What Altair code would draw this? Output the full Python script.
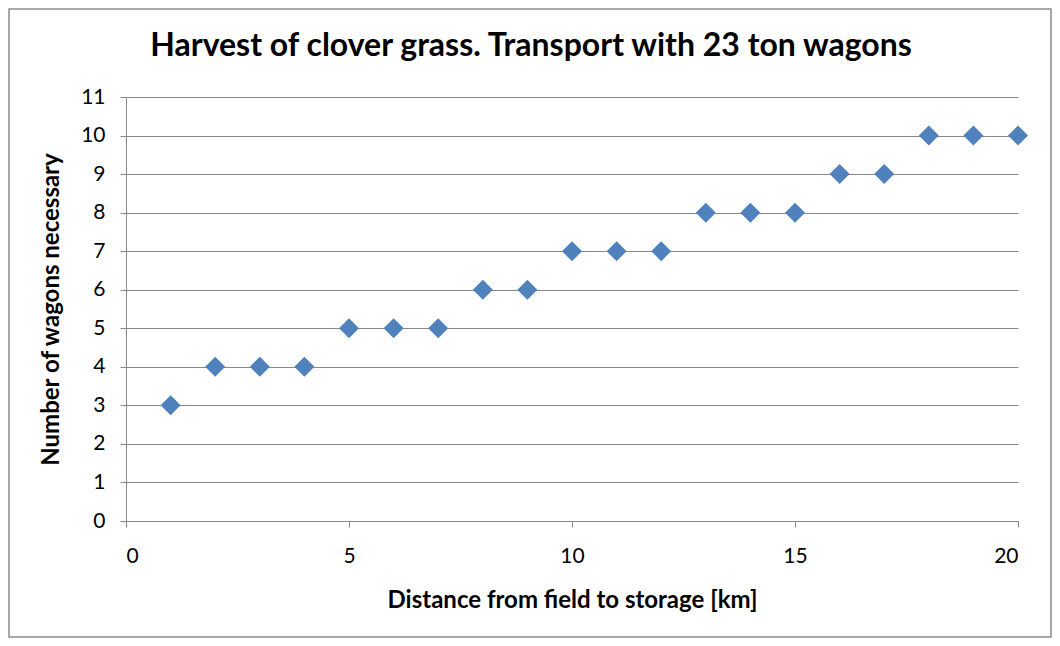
import altair as alt
import pandas as pd

distance_km = list(range(1, 21))
wagons = [3, 4, 4, 4, 5, 5, 5, 6, 6, 7, 7, 7, 8, 8, 8, 9, 9, 10, 10, 10]
title_text = ["Harvest of clover grass. Transport with 23 ton wagons"]

df = pd.DataFrame({"distance": distance_km, "wagons": wagons})

FONT = "Lato"
W, H = 892, 424
PAD_L, PAD_T = 118, 89
TOTAL_W, TOTAL_H = 1044, 630
PAD_R = TOTAL_W - PAD_L - W
PAD_B = TOTAL_H - PAD_T - H

points = alt.Chart(df).mark_point(
    shape="diamond", filled=True, size=400, color="#4F81BD", opacity=1
).encode(
    x=alt.X("distance:Q", scale=alt.Scale(domain=[0, 20], nice=False),
            axis=alt.Axis(values=[0, 5, 10, 15, 20], title="Distance from field to storage [km]",
                          grid=False, domainColor="#888888", tickColor="#888888",
                          tickSize=6, labelPadding=18, titlePadding=22,
                          labelFont=FONT, labelFontSize=21, labelColor="#000000",
                          titleFont=FONT, titleFontSize=24, titleFontWeight="bold",
                          titleColor="#000000")),
    y=alt.Y("wagons:Q", scale=alt.Scale(domain=[0, 11], nice=False),
            axis=alt.Axis(values=list(range(0, 12)), title="Number of wagons necessary",
                          grid=True, gridColor="#888888", domainColor="#888888",
                          tickColor="#888888", tickSize=6, labelPadding=15, titlePadding=17,
                          labelFont=FONT, labelFontSize=21, labelColor="#000000",
                          titleFont=FONT, titleFontSize=24, titleFontWeight="bold",
                          titleColor="#000000")),
)

border = alt.Chart(pd.DataFrame({"a": [0]})).mark_rect(
    fill=None, stroke="#8c8c8c", strokeWidth=1.5, clip=False
).encode(
    x=alt.value(-PAD_L + 1), x2=alt.value(W + PAD_R - 1),
    y=alt.value(-PAD_T + 1), y2=alt.value(H + PAD_B - 1),
)

title = alt.Chart(pd.DataFrame({"t": title_text})).mark_text(
    font=FONT, fontSize=32, fontWeight="bold", color="#000000",
    align="center", baseline="alphabetic", clip=False
).encode(
    text="t:N", x=alt.value(531 - 126), y=alt.value(56 - 97)
)

chart = alt.layer(border, points, title).properties(
    width=W, height=H,
    autosize=alt.AutoSizeParams(type="none"),
    padding={"left": PAD_L, "top": PAD_T, "right": PAD_R, "bottom": PAD_B},
    background="white",
).configure_view(stroke=None)

chart.save("out.html", embed_options={"renderer": "svg", "actions": False})
